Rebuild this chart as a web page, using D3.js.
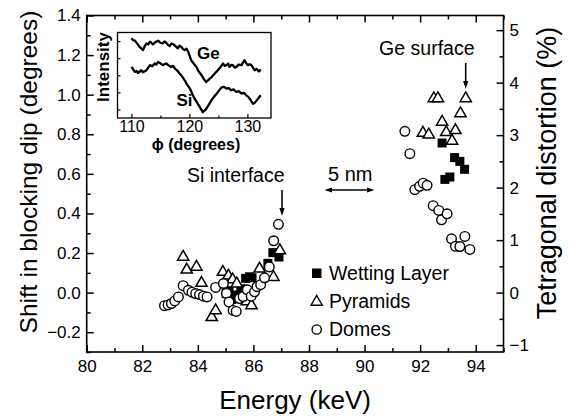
<!DOCTYPE html>
<html>
<head>
<meta charset="utf-8">
<script src="https://cdn.jsdelivr.net/npm/d3@7"></script>
<style>
  body { margin: 0; background: #fff; }
  svg { display: block; }
  text { font-family: "Liberation Sans", Arial, sans-serif; fill: #000; }
</style>
</head>
<body>
<svg id="chart"></svg>
<script>
// main data: energy (keV) vs shift in blocking dip (degrees)
const wetE = [85.02, 85.12, 85.22, 85.35, 85.55, 85.72, 85.86, 85.95, 86.52, 86.70, 86.92, 92.79, 92.89, 93.07, 93.24, 93.43, 93.60];
const wetS = [-0.005, 0.010, -0.035, -0.012, 0.020, 0.072, 0.080, 0.075, 0.148, 0.202, 0.180, 0.756, 0.572, 0.584, 0.682, 0.663, 0.623];

const pyrE = [83.47, 83.60, 83.95, 84.13, 84.50, 84.64, 84.90, 85.10, 85.25, 85.40, 85.76, 85.93, 86.22, 86.72, 86.95, 92.10, 92.31, 92.49, 92.64, 92.79, 92.94, 93.15, 93.27, 93.45, 93.64];
const pyrS = [0.180, 0.115, 0.130, 0.048, -0.125, -0.090, 0.104, 0.085, 0.066, 0.045, -0.045, -0.065, 0.120, 0.078, 0.213, 0.807, 0.798, 0.981, 0.981, 0.862, 0.810, 0.766, 0.820, 0.905, 0.981];

const domE = [82.80, 82.93, 83.05, 83.17, 83.30, 83.47, 83.66, 83.79, 83.92, 84.06, 84.20, 84.33, 84.64, 84.92, 85.03, 85.12, 85.27, 85.38, 85.50, 85.63, 85.78, 85.92, 86.04, 86.13, 86.26, 86.40, 86.57, 86.73, 86.90,
              91.45, 91.63, 91.81, 91.98, 92.11, 92.25, 92.47, 92.67, 92.77, 92.97, 93.13, 93.27, 93.43, 93.61, 93.79];
const domS = [-0.066, -0.062, -0.055, -0.042, -0.022, 0.035, 0.012, 0.002, -0.005, -0.010, -0.018, -0.022, 0.026, 0.046, -0.004, -0.048, -0.090, -0.095, -0.030, -0.020, 0.014, -0.018, 0.004, 0.030, 0.040, 0.075, 0.130, 0.262, 0.345,
              0.815, 0.702, 0.520, 0.537, 0.553, 0.542, 0.439, 0.415, 0.368, 0.398, 0.272, 0.234, 0.233, 0.284, 0.218];

// inset: intensity vs phi (degrees), arbitrary units
const gePhi = [110.0, 110.3, 110.6, 111.0, 111.4, 111.7, 112.0, 112.3, 112.6, 112.9, 113.2, 113.5, 113.7, 114.1, 114.6, 115.0, 115.4, 115.7, 116.0, 116.3, 116.6, 116.9, 117.2, 117.6, 118.0, 118.3, 118.6, 118.9, 119.2, 119.5, 119.8, 120.3, 120.7, 121.2, 121.6, 122.1, 122.5, 122.9, 123.2, 123.5, 123.8, 124.1, 124.5, 124.9, 125.3, 125.8, 126.1, 126.4, 126.7, 126.9, 127.2, 127.5, 127.8, 128.1, 128.5, 129.0, 129.2, 129.5, 129.8, 130.1, 130.4, 130.7, 131.0, 131.3, 131.6, 131.8, 132.0, 132.3];
const geInt = [9.32, 9.10, 9.04, 8.70, 8.33, 8.15, 7.94, 8.40, 8.73, 8.60, 8.92, 8.75, 8.61, 8.85, 9.04, 8.80, 8.73, 8.95, 8.80, 8.55, 8.41, 8.70, 8.65, 8.40, 8.14, 8.45, 8.33, 8.05, 7.94, 8.10, 7.74, 6.76, 6.40, 5.98, 5.45, 5.00, 4.55, 4.21, 4.40, 4.61, 4.75, 5.00, 5.30, 5.59, 5.90, 6.38, 6.10, 6.18, 6.35, 5.98, 6.20, 6.18, 5.90, 5.98, 6.25, 6.18, 6.45, 6.76, 6.40, 6.18, 6.30, 6.18, 5.85, 5.59, 5.75, 5.59, 5.45, 5.67];
const siPhi = [110.0, 110.3, 110.6, 110.9, 111.1, 111.4, 111.7, 112.0, 112.3, 112.6, 112.9, 113.2, 113.6, 114.0, 114.3, 114.6, 115.0, 115.4, 115.7, 116.0, 116.4, 116.9, 117.2, 117.5, 117.9, 118.3, 118.7, 119.2, 119.6, 120.1, 120.5, 120.9, 121.4, 121.8, 122.3, 122.6, 122.9, 123.3, 123.8, 124.2, 124.7, 125.1, 125.5, 125.9, 126.4, 126.8, 127.2, 127.6, 128.1, 128.5, 129.0, 129.4, 129.8, 130.1, 130.4, 130.7, 131.0, 131.3, 131.6, 132.0, 132.3];
const siInt = [5.98, 5.70, 5.39, 5.50, 5.27, 5.40, 5.59, 5.35, 5.47, 5.59, 5.90, 6.18, 6.05, 6.38, 6.25, 6.56, 6.40, 6.18, 6.30, 6.38, 6.15, 5.98, 6.10, 5.79, 5.55, 5.20, 4.90, 4.41, 3.90, 3.44, 2.80, 2.26, 1.70, 1.27, 0.68, 0.85, 1.08, 1.50, 2.06, 2.45, 2.85, 3.20, 3.55, 3.65, 3.44, 3.50, 3.24, 3.35, 3.04, 3.15, 2.85, 2.95, 2.65, 2.50, 2.26, 1.95, 1.67, 1.80, 2.06, 2.40, 2.65];

const xTicks = [80, 82, 84, 86, 88, 90, 92, 94];
const yTicks = [-0.2, 0.0, 0.2, 0.4, 0.6, 0.8, 1.0, 1.2, 1.4];
const rTicks = [-1, 0, 1, 2, 3, 4, 5];
const insetTicks = [110, 120, 130];

const width = 569, height = 416;
const L = 86.7, R = 503.5, T = 15.5, B = 352;

const svg = d3.select("#chart").attr("width", width).attr("height", height);

const x = d3.scaleLinear().domain([80, 95]).range([L, R]);
const y = d3.scaleLinear().domain([-0.3, 1.4]).range([B, T]);
const degPerPct = 0.2652;
const yR = d3.scaleLinear().domain([-0.3 / degPerPct, 1.4 / degPerPct]).range([B, T]);

function styleAxis(g, size) {
  g.select(".domain").remove();
  g.selectAll(".tick line").attr("stroke", "#000").attr("stroke-width", 1.5);
  g.selectAll(".tick text").attr("font-size", size).attr("font-family", '"Liberation Sans", Arial, sans-serif');
}

// bottom axis + minor ticks
svg.append("g").attr("transform", `translate(0,${B})`)
  .call(d3.axisBottom(x).tickValues(xTicks).tickFormat(d3.format("d")).tickSize(-7).tickPadding(8))
  .call(g => styleAxis(g, 17));
svg.append("g").attr("transform", `translate(0,${B})`)
  .call(d3.axisBottom(x).tickValues(d3.range(81, 96, 2)).tickFormat("").tickSize(-4))
  .call(g => styleAxis(g, 17));
// top ticks
svg.append("g").attr("transform", `translate(0,${T})`)
  .call(d3.axisTop(x).tickValues(xTicks).tickFormat("").tickSize(-7))
  .call(g => styleAxis(g, 17));
svg.append("g").attr("transform", `translate(0,${T})`)
  .call(d3.axisTop(x).tickValues(d3.range(81, 96, 2)).tickFormat("").tickSize(-4))
  .call(g => styleAxis(g, 17));

// left axis
svg.append("g").attr("transform", `translate(${L},0)`)
  .call(d3.axisLeft(y).tickValues(yTicks).tickFormat(d3.format(".1f")).tickSize(-7).tickPadding(6))
  .call(g => styleAxis(g, 17));
svg.append("g").attr("transform", `translate(${L},0)`)
  .call(d3.axisLeft(y).tickValues([-0.3, -0.1, 0.1, 0.3, 0.5, 0.7, 0.9, 1.1, 1.3]).tickFormat("").tickSize(-4))
  .call(g => styleAxis(g, 17));

// right axis
svg.append("g").attr("transform", `translate(${R},0)`)
  .call(d3.axisRight(yR).tickValues(rTicks).tickFormat(d3.format("d")).tickSize(-7).tickPadding(6))
  .call(g => styleAxis(g, 17));
svg.append("g").attr("transform", `translate(${R},0)`)
  .call(d3.axisRight(yR).tickValues([-0.5, 0.5, 1.5, 2.5, 3.5, 4.5]).tickFormat("").tickSize(-4))
  .call(g => styleAxis(g, 17));

// frame
svg.append("rect").attr("x", L).attr("y", T).attr("width", R - L).attr("height", B - T)
  .attr("fill", "none").attr("stroke", "#000").attr("stroke-width", 1.6);

// axis titles
svg.append("text").attr("x", (L + R) / 2).attr("y", 409).attr("text-anchor", "middle")
  .attr("font-size", 26).text("Energy (keV)");
svg.append("text").attr("transform", `translate(37,172) rotate(-90)`).attr("text-anchor", "middle")
  .attr("font-size", 24.5).text("Shift in blocking dip (degrees)");
svg.append("text").attr("transform", `translate(556,173) rotate(-90)`).attr("text-anchor", "middle")
  .attr("font-size", 27).text("Tetragonal distortion (%)");

// markers
const marks = svg.append("g");
const sq = 9;
marks.selectAll("rect.wet").data(d3.zip(wetE, wetS)).join("rect").attr("class", "wet")
  .attr("x", d => x(d[0]) - sq / 2).attr("y", d => y(d[1]) - sq / 2)
  .attr("width", sq).attr("height", sq).attr("fill", "#000");

const tri = d3.symbol().type(d3.symbolTriangle).size(55);
marks.selectAll("path.pyr").data(d3.zip(pyrE, pyrS)).join("path").attr("class", "pyr")
  .attr("d", tri).attr("transform", d => `translate(${x(d[0])},${y(d[1])})`)
  .attr("fill", "#fff").attr("stroke", "#000").attr("stroke-width", 1.5);

marks.selectAll("circle.dom").data(d3.zip(domE, domS)).join("circle").attr("class", "dom")
  .attr("cx", d => x(d[0])).attr("cy", d => y(d[1])).attr("r", 4.8)
  .attr("fill", "#fff").attr("stroke", "#000").attr("stroke-width", 1.4);

// legend
const leg = svg.append("g");
leg.append("rect").attr("x", 312).attr("y", 268.5).attr("width", 9.5).attr("height", 9.5).attr("fill", "#000");
leg.append("path").attr("d", tri).attr("transform", "translate(316.7,302)")
  .attr("fill", "#fff").attr("stroke", "#000").attr("stroke-width", 1.4);
leg.append("circle").attr("cx", 316.7).attr("cy", 329.5).attr("r", 4.6)
  .attr("fill", "#fff").attr("stroke", "#000").attr("stroke-width", 1.4);
leg.append("text").attr("x", 329).attr("y", 280).attr("font-size", 19.5).text("Wetting Layer");
leg.append("text").attr("x", 329).attr("y", 308).attr("font-size", 19.5).text("Pyramids");
leg.append("text").attr("x", 329).attr("y", 336).attr("font-size", 19.5).text("Domes");

// annotations
svg.append("text").attr("x", 284.5).attr("y", 182).attr("text-anchor", "end").attr("font-size", 19.5).text("Si interface");
svg.append("text").attr("x", 474.5).attr("y", 55).attr("text-anchor", "end").attr("font-size", 19.5).text("Ge surface");
svg.append("text").attr("x", 328).attr("y", 181).attr("font-size", 20).text("5 nm");

function downArrow(cx, y0, y1) {
  svg.append("line").attr("x1", cx).attr("x2", cx).attr("y1", y0).attr("y2", y1 - 6)
    .attr("stroke", "#000").attr("stroke-width", 1.6);
  svg.append("path").attr("d", `M${cx - 2.6},${y1 - 8} L${cx + 2.6},${y1 - 8} L${cx},${y1} Z`).attr("fill", "#000");
}
downArrow(282, 190, 216);
downArrow(465.7, 63, 89);

// 5 nm double arrow
svg.append("line").attr("x1", 328).attr("x2", 371).attr("y1", 190).attr("y2", 190)
  .attr("stroke", "#000").attr("stroke-width", 1.4);
svg.append("path").attr("d", "M324.5,190 L332,187.6 L332,192.4 Z").attr("fill", "#000");
svg.append("path").attr("d", "M374.5,190 L367,187.6 L367,192.4 Z").attr("fill", "#000");

// inset
const iL = 117.5, iR = 271, iT = 32.5, iB = 118;
const ix = d3.scaleLinear().domain([107.6, 134.07]).range([iL, iR]);
const iy = d3.scaleLinear().domain([0, 10]).range([iB, iT]);

svg.append("rect").attr("x", iL).attr("y", iT).attr("width", iR - iL).attr("height", iB - iT)
  .attr("fill", "#fff").attr("stroke", "#000").attr("stroke-width", 1.3);

svg.append("g").attr("transform", `translate(0,${iB})`)
  .call(d3.axisBottom(ix).tickValues(insetTicks).tickFormat(d3.format("d")).tickSize(-4).tickPadding(3))
  .call(g => styleAxis(g, 16))
  .call(g => g.selectAll(".tick line").attr("stroke-width", 1.2));
svg.append("g").attr("transform", `translate(0,${iB})`)
  .call(d3.axisBottom(ix).tickValues([115, 125]).tickFormat("").tickSize(-2.5))
  .call(g => styleAxis(g, 16))
  .call(g => g.selectAll(".tick line").attr("stroke-width", 1.2));
svg.append("g").attr("transform", `translate(${iL},0)`)
  .call(d3.axisLeft(iy).tickValues([1, 3, 5, 7, 9]).tickFormat("").tickSize(-3))
  .call(g => styleAxis(g, 16))
  .call(g => g.selectAll(".tick line").attr("stroke-width", 1.2));

const line = d3.line().x(d => ix(d[0])).y(d => iy(d[1]));
svg.append("path").datum(d3.zip(gePhi, geInt)).attr("d", line)
  .attr("fill", "none").attr("stroke", "#000").attr("stroke-width", 2.3).attr("stroke-linejoin", "round");
svg.append("path").datum(d3.zip(siPhi, siInt)).attr("d", line)
  .attr("fill", "none").attr("stroke", "#000").attr("stroke-width", 2.3).attr("stroke-linejoin", "round");

svg.append("text").attr("x", 197).attr("y", 59).attr("font-size", 17).attr("font-weight", "bold").text("Ge");
svg.append("text").attr("x", 176.5).attr("y", 106).attr("font-size", 17).attr("font-weight", "bold").text("Si");
svg.append("text").attr("transform", "translate(109,67) rotate(-90)").attr("text-anchor", "middle")
  .attr("font-size", 17).attr("font-weight", "bold").text("Intensity");
svg.append("text").attr("x", 196).attr("y", 150).attr("text-anchor", "middle")
  .attr("font-size", 16).attr("font-weight", "bold").text("\u03d5 (degrees)");
</script>
</body>
</html>
